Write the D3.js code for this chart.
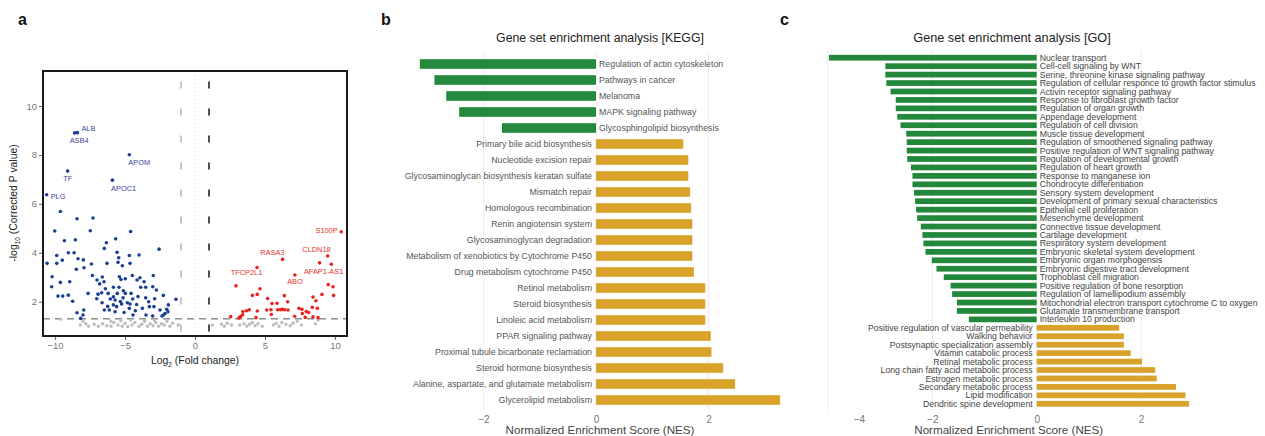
<!DOCTYPE html>
<html>
<head>
<meta charset="utf-8">
<script src="https://cdn.jsdelivr.net/npm/d3@7"></script>
<style>
  body { margin: 0; background: #fff; }
  svg { font-family: "Liberation Sans", Arial, sans-serif; display: block; }
</style>
</head>
<body>
<div id="figure"></div>
<script>
// ---------- data: panel a (volcano), [log2 FC, -log10 p] ----------
const downGenes = [
  [-10.02,4.89],[-9.62,5.69],[-8.43,5.39],[-7.29,5.42],[-7.48,4.90],[-9.33,4.49],[-8.55,4.53],
  [-5.67,4.57],[-6.33,4.41],[-6.48,4.18],[-4.60,4.87],[-2.57,4.15],[-10.57,3.57],[-9.88,3.89],
  [-9.88,3.57],[-9.48,3.70],[-9.05,4.00],[-8.64,4.00],[-8.36,3.76],[-7.98,3.71],[-8.48,3.33],
  [-7.93,3.39],[-7.40,3.54],[-10.21,3.02],[-9.62,2.79],[-10.24,2.61],[-8.95,2.82],[-8.74,2.02],
  [-9.79,2.23],[-9.45,2.23],[-9.05,2.27],[-8.43,1.55],[-7.95,1.66],[-8.17,1.32],[-8.00,1.46],
  [-7.64,2.34],[-7.33,3.07],[-7.00,2.89],[-6.62,3.01],[-6.81,2.73],[-6.50,2.82],[-6.40,2.53],
  [-6.93,2.31],[-6.67,2.37],[-7.02,2.12],[-6.64,1.96],[-6.24,1.81],[-6.48,1.66],[-6.05,2.11],
  [-6.21,2.34],[-5.71,1.59],[-5.60,1.80],[-5.24,1.91],[-5.71,2.07],[-5.55,2.34],[-5.83,2.20],
  [-5.43,2.59],[-5.40,3.02],[-5.29,2.91],[-5.33,2.01],[-5.14,2.16],[-5.12,2.45],[-4.98,2.34],
  [-5.07,1.56],[-4.57,2.34],[-4.45,2.11],[-4.64,1.91],[-4.69,1.73],[-4.43,1.46],[-4.26,1.63],
  [-4.17,1.89],[-4.07,2.21],[-3.88,2.59],[-3.93,2.98],[-3.64,2.82],[-3.52,2.59],[-4.14,2.89],
  [-3.52,2.16],[-3.31,2.00],[-3.26,1.80],[-3.02,1.42],[-3.50,1.46],[-3.76,1.73],[-2.98,3.07],
  [-3.02,2.61],[-2.76,2.48],[-2.88,2.12],[-2.93,1.80],[-2.26,2.26],[-2.50,1.66],[-2.36,1.42],
  [-2.14,1.52],[-2.02,1.69],[-1.90,1.87],[-1.93,1.59],[-1.36,2.10],[-4.69,3.89],[-4.00,3.91],
  [-4.64,3.57],[-5.57,4.02],[-5.45,3.80],[-5.50,3.61],[-6.29,3.57],[-5.19,3.47],[-4.48,3.07],
  [-4.98,2.94],[-5.83,2.59],[-4.83,1.96],[-5.83,1.87],[-6.12,1.66],[-2.26,1.46]
];
const upGenes = [
  [8.90,3.59],[2.93,2.65],[4.64,2.53],[4.10,2.26],[4.45,2.30],[9.52,2.70],[9.86,2.61],[9.07,2.30],
  [9.90,2.26],[6.38,2.25],[5.19,2.13],[8.43,2.19],[8.64,2.04],[6.62,2.00],[5.50,1.93],[5.86,1.94],
  [8.74,1.73],[8.38,1.77],[5.43,1.67],[5.12,1.66],[5.90,1.67],[6.10,1.67],[6.24,1.69],[6.40,1.67],
  [6.64,1.66],[4.45,1.62],[3.88,1.67],[3.69,1.63],[3.43,1.60],[3.40,1.47],[3.26,1.39],[3.14,1.34],
  [2.55,1.39],[4.36,1.35],[7.43,1.73],[7.64,1.69],[7.95,1.60],[8.12,1.56],[7.88,1.36],[7.12,1.41],
  [8.43,1.38],[8.79,1.35],[7.67,1.52],[5.45,1.48]
];
const nsGenes = [
  [-9.6,1.28],[-8.2,1.05],[-8.0,1.20],[-7.8,1.10],[-7.6,1.00],[-7.2,1.08],[-6.9,1.00],[-6.6,1.10],
  [-6.3,1.02],[-6.0,1.00],[-6.0,1.20],[-5.8,1.15],[-5.5,1.05],[-5.3,1.22],[-5.2,1.00],[-5.0,1.12],
  [-4.8,0.98],[-4.6,1.25],[-4.5,1.05],[-4.3,1.15],[-4.0,1.00],[-3.8,1.08],[-3.6,1.20],[-3.4,1.00],
  [-3.2,1.10],[-3.0,1.02],[-2.9,1.25],[-2.8,1.15],[-2.6,1.00],[-2.4,1.10],[-2.2,1.05],[-2.0,1.20],
  [-1.8,1.00],[-1.6,1.12],[-1.2,1.05],
  [1.24,1.05],[1.9,1.09],[2.1,1.00],[2.3,1.12],[2.6,1.05],[3.2,1.05],[3.5,1.10],[3.7,1.00],
  [3.9,1.08],[4.1,1.15],[4.3,1.02],[4.5,1.10],[4.8,1.00],[5.6,1.05],[5.8,1.12],[6.0,1.00],
  [6.2,1.15],[6.5,1.08],[6.8,1.02],[7.0,1.12],[7.3,1.20],[7.6,1.05],[8.6,1.10],[8.8,1.25]
];
const labelledDown = [
  { gene: "ALB",   fc: -8.40, p: 8.91 },
  { gene: "ASB4",  fc: -8.60, p: 8.90 },
  { gene: "APOM",  fc: -4.69, p: 8.01 },
  { gene: "TF",    fc: -9.10, p: 7.34 },
  { gene: "APOC1", fc: -5.90, p: 6.97 },
  { gene: "PLG",   fc: -10.60, p: 6.37 }
];
const labelledUp = [
  { gene: "S100P",     fc: 10.45, p: 4.86 },
  { gene: "RASA3",     fc: 6.26,  p: 3.73 },
  { gene: "CLDN18",    fc: 9.48,  p: 3.87 },
  { gene: "AFAP1-AS1", fc: 9.74,  p: 3.53 },
  { gene: "TFCP2L1",   fc: 4.43,  p: 3.40 },
  { gene: "ABO",       fc: 7.14,  p: 3.09 }
];
const volcanoXTicks = [-10, -5, 0, 5, 10];
const volcanoYTicks = [2, 4, 6, 8, 10];

// ---------- data: panel b (KEGG) ----------
const keggTerms = [
  "Regulation of actin cytoskeleton", "Pathways in cancer", "Melanoma", "MAPK signaling pathway",
  "Glycosphingolipid biosynthesis", "Primary bile acid biosynthesis", "Nucleotide excision repair",
  "Glycosaminoglycan biosynthesis keratan sulfate", "Mismatch repair", "Homologous recombination",
  "Renin angiotensin system", "Glycosaminoglycan degradation",
  "Metabolism of xenobiotics by Cytochrome P450", "Drug metabolism cytochrome P450",
  "Retinol metabolism", "Steroid biosynthesis", "Linoleic acid metabolism", "PPAR signaling pathway",
  "Proximal tubule bicarbonate reclamation", "Steroid hormone biosynthesis",
  "Alanine, aspartate, and glutamate metabolism", "Glycerolipid metabolism"
];
const keggNES = [-3.13, -2.87, -2.66, -2.43, -1.67, 1.55, 1.64, 1.64, 1.67, 1.69, 1.71, 1.71,
  1.71, 1.74, 1.94, 1.94, 1.94, 2.04, 2.05, 2.26, 2.47, 3.27];
const keggTicks = [-2, 0, 2];

// ---------- data: panel c (GO) ----------
const goTerms = [
  "Nuclear transport", "Cell-cell signaling by WNT", "Serine, threonine kinase signaling pathway",
  "Regulation of cellular responce to growth factor stimulus", "Activin receptor signaling pathway",
  "Response to fibroblast growth factor", "Regulation of organ growth", "Appendage development",
  "Regulation of cell division", "Muscle tissue development",
  "Regulation of smoothened signaling pathway", "Positive regulation of WNT signaling pathway",
  "Regulation of developmental growth", "Regulation of heart growth", "Response to manganese ion",
  "Chondrocyte differentiation", "Sensory system development",
  "Development of primary sexual characteristics", "Epithelial cell proliferation",
  "Mesenchyme development", "Connective tissue development", "Cartilage development",
  "Respiratory system development", "Embryonic skeletal system development",
  "Embryonic organ morphogensis", "Embryonic digestive tract development",
  "Trophoblast cell migration", "Positive regulation of bone resorption",
  "Regulation of lamellipodium assembly", "Mitochondrial electron transport cytochrome C to oxygen",
  "Glutamate transmembrane transport", "Interleukin 10 production",
  "Positive regulation of vascular permeability", "Walking behavior",
  "Postsynaptic specialization assembly", "Vitamin catabolic process", "Retinal metabolic process",
  "Long chain fatty acid metabolic process", "Estrogen metabolic process",
  "Secondary metabolic process", "Lipid modification", "Dendritic spine development"
];
const goNES = [-3.98, -2.90, -2.90, -2.88, -2.80, -2.70, -2.70, -2.67, -2.61, -2.50, -2.49, -2.49,
  -2.48, -2.41, -2.38, -2.38, -2.35, -2.33, -2.31, -2.29, -2.22, -2.19, -2.17, -2.13, -2.01, -1.92,
  -1.78, -1.65, -1.62, -1.53, -1.53, -1.30,
  1.58, 1.67, 1.67, 1.80, 2.02, 2.27, 2.30, 2.67, 2.85, 2.92];
const goTicks = [-4, -2, 0, 2];

const negColor = "#23883c", posColor = "#d9a22a";
const blue = "#1c3f93", red = "#e8231f";

const svg = d3.select("#figure").append("svg")
  .attr("width", 1265).attr("height", 436);

// panel letters
[["a", 18], ["b", 381], ["c", 780]].forEach(([t, x]) => {
  svg.append("text").text(t).attr("x", x).attr("y", 25)
    .style("font-size", "16px").style("font-weight", "bold").attr("fill", "#111");
});

// ================= panel a =================
const xA = d3.scaleLinear().domain([-10.86, 10.86]).range([43, 347]);
const yA = d3.scaleLinear().domain([0.6, 11.43]).range([336, 71]);
const gA = svg.append("g");

// reference lines
gA.append("line").attr("x1", xA(0)).attr("x2", xA(0)).attr("y1", yA(11.43)).attr("y2", yA(0.6))
  .attr("stroke", "#cfcfcf").attr("stroke-dasharray", "1,3");
gA.append("line").attr("x1", xA(-1)).attr("x2", xA(-1)).attr("y1", yA(11.0)).attr("y2", yA(0.6))
  .attr("stroke", "#8a8a8a").attr("stroke-width", 1).attr("stroke-dasharray", "7,20");
gA.append("line").attr("x1", xA(1)).attr("x2", xA(1)).attr("y1", yA(11.0)).attr("y2", yA(0.6))
  .attr("stroke", "#222").attr("stroke-width", 1.6).attr("stroke-dasharray", "7,20");
gA.append("line").attr("x1", xA(-10.86)).attr("x2", xA(10.86)).attr("y1", yA(1.3)).attr("y2", yA(1.3))
  .attr("stroke", "#555").attr("stroke-width", 1).attr("stroke-dasharray", "7,5");

gA.selectAll(".ns").data(nsGenes).join("circle").attr("class", "ns")
  .attr("cx", d => xA(d[0])).attr("cy", d => yA(d[1])).attr("r", 1.7).attr("fill", "#bdbdbd");
gA.selectAll(".dn").data(downGenes.concat(labelledDown.map(d => [d.fc, d.p]))).join("circle").attr("class", "dn")
  .attr("cx", d => xA(d[0])).attr("cy", d => yA(d[1])).attr("r", 1.8).attr("fill", blue);
gA.selectAll(".up").data(upGenes.concat(labelledUp.map(d => [d.fc, d.p]))).join("circle").attr("class", "up")
  .attr("cx", d => xA(d[0])).attr("cy", d => yA(d[1])).attr("r", 1.8).attr("fill", red);

// gene labels: offsets from the point
const labelPlace = {
  ALB: [4, -2, "start"], ASB4: [-5, 10.5, "start"], APOM: [-1, 10, "start"], TF: [-4.4, 9.5, "start"],
  APOC1: [-1.3, 11, "start"], PLG: [4, 4.5, "start"],
  S100P: [-3.6, 1, "end"], RASA3: [2, -4, "end"], CLDN18: [3, -3.5, "end"], "AFAP1-AS1": [12, 9.4, "end"],
  TFCP2L1: [5.3, 7.4, "end"], ABO: [0, 9.3, "middle"]
};
[[labelledDown, "#3b3f9e"], [labelledUp, "#e8312a"]].forEach(([arr, col]) => {
  gA.selectAll(null).data(arr).join("text")
    .attr("x", d => xA(d.fc) + labelPlace[d.gene][0])
    .attr("y", d => yA(d.p) + labelPlace[d.gene][1])
    .attr("text-anchor", d => labelPlace[d.gene][2])
    .style("font-size", "7.4px").attr("fill", col).text(d => d.gene);
});

gA.append("rect").attr("x", 43).attr("y", 71).attr("width", 304).attr("height", 265)
  .attr("fill", "none").attr("stroke", "#1a1a1a").attr("stroke-width", 2);

const axA = gA.append("g").attr("transform", "translate(0,337)")
  .call(d3.axisBottom(xA).tickValues(volcanoXTicks).tickSize(3).tickPadding(2));
const ayA = gA.append("g").attr("transform", "translate(42,0)")
  .call(d3.axisLeft(yA).tickValues(volcanoYTicks).tickSize(3).tickPadding(2));
[axA, ayA].forEach(a => {
  a.select(".domain").remove();
  a.selectAll("line").attr("stroke", "#666");
  a.selectAll("text").attr("fill", "#777").style("font-size", "9.5px");
});

const xLab = gA.append("text").attr("x", xA(0)).attr("y", 364).attr("text-anchor", "middle")
  .style("font-size", "10.4px").attr("fill", "#222");
xLab.append("tspan").text("Log");
xLab.append("tspan").text("2").style("font-size", "6.5px").attr("dy", 3);
xLab.append("tspan").text(" (Fold change)").attr("dy", -3);

const yLab = gA.append("text").attr("transform", "translate(17,203) rotate(-90)")
  .attr("text-anchor", "middle").style("font-size", "10.4px").attr("fill", "#222");
yLab.append("tspan").text("-log");
yLab.append("tspan").text("10").style("font-size", "6.5px").attr("dy", 3);
yLab.append("tspan").text(" (Corrected P value)").attr("dy", -3);

// ================= bar panels =================
function barPanel(opts) {
  const { terms, values, x, y, ticks, labelSize, labelColor, title, titleX, titleSize } = opts;
  const g = svg.append("g");
  g.selectAll(".grid").data(ticks).join("line").attr("class", "grid")
    .attr("x1", d => x(d)).attr("x2", d => x(d))
    .attr("y1", y.range()[0] - 3).attr("y2", y.range()[1] + 2)
    .attr("stroke", "#ececec").attr("stroke-width", 1);

  const data = terms.map((t, i) => ({ term: t, nes: values[i] }));
  g.selectAll(".bar").data(data).join("rect").attr("class", "bar")
    .attr("x", d => Math.min(x(0), x(d.nes)))
    .attr("width", d => Math.abs(x(d.nes) - x(0)))
    .attr("y", d => y(d.term)).attr("height", y.bandwidth())
    .attr("fill", d => d.nes < 0 ? negColor : posColor);

  g.selectAll(".lab").data(data).join("text").attr("class", "lab")
    .attr("x", d => d.nes < 0 ? x(0) + 3 : x(0) - 4)
    .attr("y", d => y(d.term) + y.bandwidth() / 2)
    .attr("dy", "0.35em")
    .attr("text-anchor", d => d.nes < 0 ? "start" : "end")
    .style("font-size", labelSize).attr("fill", labelColor).text(d => d.term);

  const ax = g.append("g").attr("transform", `translate(0,${y.range()[1]})`)
    .call(d3.axisBottom(x).tickValues(ticks).tickFormat(d3.format("d")).tickSize(0).tickPadding(8));
  ax.select(".domain").remove();
  ax.selectAll("text").attr("fill", "#777").style("font-size", "10px");

  g.append("text").attr("x", titleX).attr("y", 42).attr("text-anchor", "middle")
    .style("font-size", titleSize).attr("fill", "#222").text(title);
  g.append("text").attr("x", x(0) + opts.axisTitleShift).attr("y", 434).attr("text-anchor", "middle")
    .style("font-size", "11.6px").attr("fill", "#444").text("Normalized Enrichment Score (NES)");
  return ax;
}

const xB = d3.scaleLinear().domain([-3.3, 3.4]).range([596 - 3.3 * 56.3, 596 + 3.4 * 56.3]);
const yB = d3.scaleBand().domain(keggTerms).range([56, 408]).paddingInner(0.4).paddingOuter(0.2);
barPanel({ terms: keggTerms, values: keggNES, x: xB, y: yB, ticks: keggTicks,
  labelSize: "8.8px", labelColor: "#555", title: "Gene set enrichment analysis [KEGG]", titleX: 600,
  titleSize: "12.3px", axisTitleShift: 4 });

const xC = d3.scaleLinear().domain([-4.1, 3.0]).range([1036.7 - 4.1 * 52.2, 1036.7 + 3.0 * 52.2]);
const yC = d3.scaleBand().domain(goTerms).range([53.5, 408]).paddingInner(0.32).paddingOuter(0.16);
const axC = barPanel({ terms: goTerms, values: goNES, x: xC, y: yC, ticks: goTicks,
  labelSize: "8.7px", labelColor: "#444", title: "Gene set enrichment analysis [GO]", titleX: 1012,
  titleSize: "12.7px", axisTitleShift: -28 });
// the "-4" label sits to the right of its gridline in the original
axC.selectAll(".tick").filter(d => d === -4).select("text").attr("dx", 31);
</script>
</body>
</html>
